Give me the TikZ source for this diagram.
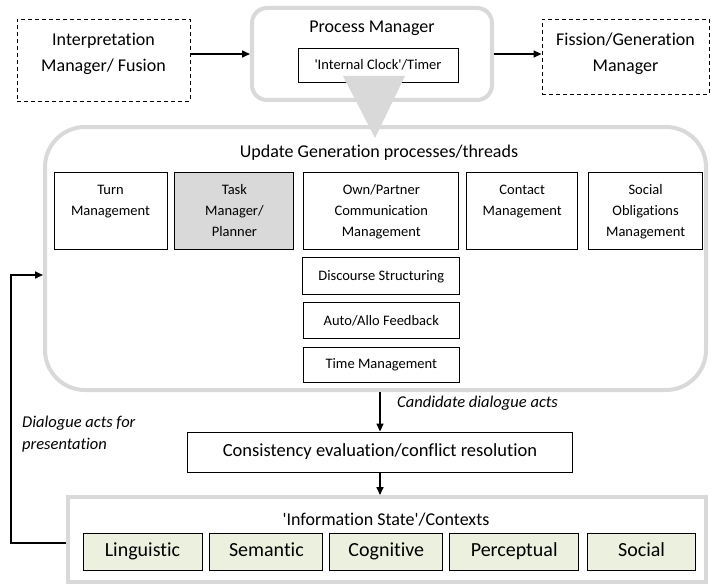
\documentclass[tikz,border=0pt]{standalone}
\usepackage{fontspec}
\setmainfont{Carlito}[Ligatures=NoCommon]
\usepackage{tikz}
\usetikzlibrary{positioning}
\usetikzlibrary{arrows.meta}
\definecolor{panelgray}{HTML}{D9D9D9}
\definecolor{ctxgreen}{HTML}{EBF1DE}
\newcommand{\lines}[1]{\begin{tabular}[t]{@{}c@{}}#1\end{tabular}}
\tikzstyle{panel}=[draw=panelgray,line width=4pt,inner sep=0pt]
\tikzstyle{ext}=[draw,dashed,dash pattern=on 4pt off 3pt,line width=0.9pt,inner sep=0pt,font=\fontsize{18}{26}\selectfont,text height=13pt]
\tikzstyle{thread}=[draw,line width=0.9pt,inner sep=0pt,font=\fontsize{14.5}{21}\selectfont]
\tikzstyle{threadtop}=[thread,minimum height=77pt,text height=11pt,text depth=45pt]
\tikzstyle{ctx}=[draw,line width=0.9pt,fill=ctxgreen,inner sep=0pt,minimum height=37pt,text height=14pt,text depth=4pt,font=\fontsize{20}{24}\selectfont]
\tikzstyle{flow}=[line width=1.6pt,-{Triangle[length=8pt,width=7pt]}]
\tikzstyle{note}=[align=left,inner sep=0pt,font=\fontsize{16.5}{22}\selectfont\itshape]

\begin{document}
\begin{tikzpicture}[x=1pt,y=-1pt]

	\useasboundingbox (0,0) rectangle (711,583);

	% top row
	\node [ext, minimum width=173pt, minimum height=82pt, text depth=42pt] (interp) at (103.5,60) {\lines{Interpretation\\Manager/ Fusion}};
	\node [panel, rounded corners=15pt, minimum width=240pt, minimum height=92pt] (pm) at (372,54) {};
	\node [font=\fontsize{18}{22}\selectfont] (pmtitle) at (372,28) {Process Manager};
	\node [thread, minimum width=160pt, minimum height=34pt] (clock) at (378,65) {\textquotesingle Internal Clock\textquotesingle/Timer};
	\node [ext, minimum width=167pt, minimum height=75pt, text depth=35pt] (fission) at (625.5,56.5) {\lines{Fission/Generation\\Manager}};

	\fill [panelgray] (343,76) -- (405,76) -- (375,138) -- cycle;

	\draw [flow] (interp.east |- pm.west) -- (pm.west);
	\draw [flow] (pm.east) -- (fission.west |- pm.east);

	% update generation
	\node [panel, rounded corners=40pt, minimum width=661pt, minimum height=263pt] (ug) at (375.5,258.5) {};
	\node [font=\fontsize{18}{22}\selectfont] (ugtitle) at (379,153) {Update Generation processes/threads};

	\node [threadtop, minimum width=113pt] (turn) at (110.5,211) {\lines{Turn\\Management}};
	\node [threadtop, minimum width=119pt, fill=panelgray, right=7pt of turn] (task) {\lines{Task\\Manager/\\Planner}};
	\node [threadtop, minimum width=155pt, right=9pt of task] (own) {\lines{Own/Partner\\Communication\\Management}};
	\node [threadtop, minimum width=111pt, right=7pt of own] (contact) {\lines{Contact\\Management}};
	\node [threadtop, minimum width=114pt, right=10pt of contact] (social) {\lines{Social\\Obligations\\Management}};

	\node [thread, minimum width=157pt, minimum height=37pt, below=7.5pt of own] (discourse) {Discourse Structuring};
	\node [thread, minimum width=156pt, minimum height=36pt, below=7pt of discourse] (feedback) {Auto/Allo Feedback};
	\node [thread, minimum width=156pt, minimum height=35pt, below=8pt of feedback] (time) {Time Management};

	% evaluation
	\node [draw, line width=0.9pt, minimum width=385pt, minimum height=40pt, inner sep=0pt, font=\fontsize{18.5}{22}\selectfont] (cons) at (380,452) {Consistency evaluation/conflict resolution};

	\draw [flow] (ug.south -| cons.north) -- (cons.north);
	\node [note, anchor=west] (cand) at (397,403) {Candidate dialogue acts};

	% information state
	\node [panel, minimum width=638pt, minimum height=85pt] (info) at (387,539.5) {};
	\node [font=\fontsize{18}{22}\selectfont] (infotitle) at (386,520) {\textquotesingle Information State\textquotesingle/Contexts};

	\node [ctx, minimum width=119pt] (ling) at (142.5,551.5) {Linguistic};
	\node [ctx, minimum width=113pt, right=7pt of ling] (sem) {Semantic};
	\node [ctx, minimum width=113pt, right=6pt of sem] (cog) {Cognitive};
	\node [ctx, minimum width=129pt, right=6pt of cog] (perc) {Perceptual};
	\node [ctx, minimum width=108pt, right=8pt of perc] (soc) {Social};

	\draw [flow] (cons.south) -- (cons.south |- info.north);

	% back to the threads
	\draw [flow] ([yshift=-3.5pt]info.west) -- ++(-55,0) |- ([yshift=-16.5pt]ug.west);
	\node [note, anchor=west] (present) at (22,434) {Dialogue acts for\\presentation};

\end{tikzpicture}
\end{document}
